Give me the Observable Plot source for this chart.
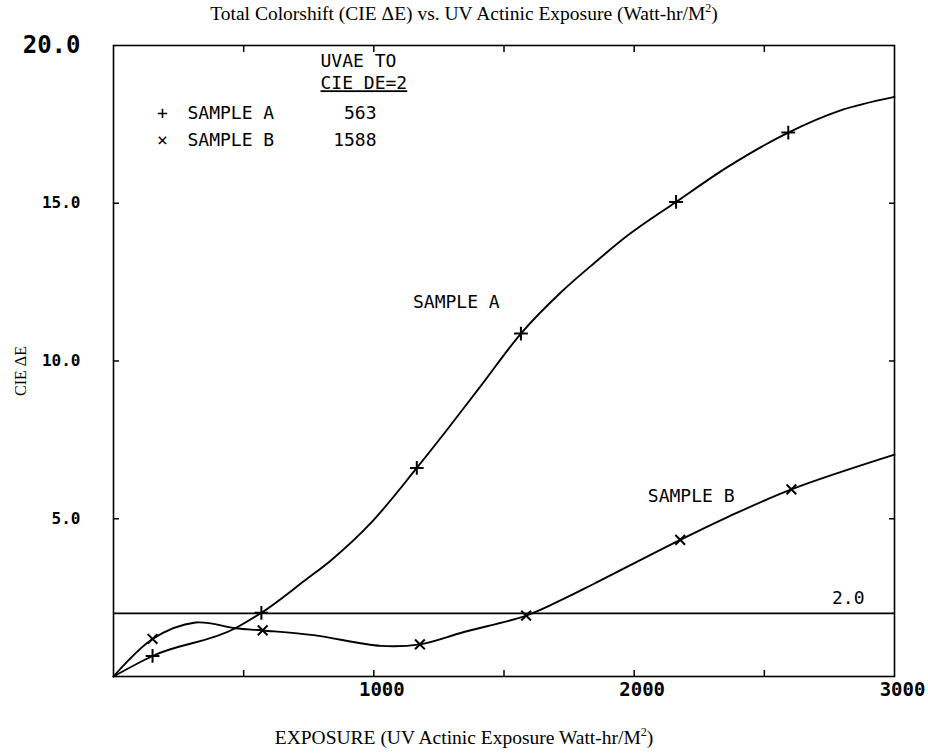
<!DOCTYPE html>
<html>
<head>
<meta charset="utf-8">
<script src="https://cdn.jsdelivr.net/npm/d3@7"></script>
<script src="https://cdn.jsdelivr.net/npm/@observablehq/plot@0.6"></script>
<style>
  body { margin: 0; background: #fff; }
  #wrap { width: 928px; }
  .title, .caption {
    font-family: "Liberation Serif", "Times New Roman", serif;
    font-size: 19.5px; text-align: center; color: #000;
  }
  .title { height: 28px; line-height: 27px; }
  .caption { height: 20px; line-height: 20px; }
  .sup { font-size: 12px; vertical-align: 8px; line-height: 0; }
  #chart svg { display: block; }
</style>
</head>
<body>
<div id="wrap">
  <div class="title">Total Colorshift (CIE ΔE) vs. UV Actinic Exposure (Watt-hr/M<span class="sup">2</span>)</div>
  <div id="chart"></div>
  <div class="caption">EXPOSURE (UV Actinic Exposure Watt-hr/M<span class="sup">2</span>)</div>
</div>
<script>
// Sample A curve (UV actinic exposure, CIE ΔE)
const expA   = [0, 150, 468, 568, 736, 835, 988, 1165, 1285, 1411, 1565, 1719, 1846, 1977, 2161, 2361, 2592, 2785, 3000];
const deltaA = [0, 0.65, 1.53, 2.02, 3.05, 3.68, 4.86, 6.61, 7.86, 9.21, 10.87, 12.18, 13.1, 13.99, 15.04, 16.16, 17.24, 17.92, 18.37];
// Sample B curve
const expB   = [0, 150, 315, 469, 573, 769, 1027, 1177, 1346, 1585, 1719, 1846, 2177, 2361, 2604, 3000];
const deltaB = [0, 1.19, 1.71, 1.53, 1.46, 1.31, 0.97, 1.02, 1.41, 1.93, 2.42, 2.94, 4.33, 5.06, 5.93, 7.03];
// Measured points (markers)
const markExpA   = [150, 568, 1165, 1565, 2161, 2592];
const markDeltaA = [0.65, 2.02, 6.61, 10.87, 15.04, 17.24];
const markExpB   = [150, 573, 1177, 1585, 2177, 2604];
const markDeltaB = [1.19, 1.46, 1.02, 1.93, 4.33, 5.93];
// Threshold line
const threshold = [2.0];
// Axis ticks
const xTicks = [500, 1000, 1500, 2000, 2500];
const xTickLabels = [1000, 2000, 3000];
const yTicks = [5, 10, 15];
const yTickLabels = [5, 10, 15];
const yTopLabel = [20];
// Curve labels (data space)
const curveLabelText = ["SAMPLE A", "SAMPLE B"];
const curveLabelExp = [1317, 2219];
const curveLabelDelta = [11.87, 5.72];
// Legend table
const legendHeader = ["UVAE TO", "CIE DE=2"];
const legendSymbols = ["+", "×"];
const legendNames = ["SAMPLE A", "SAMPLE B"];
const legendValues = ["563", "1588"];

const mono = "DejaVu Sans Mono, Liberation Mono, monospace";
const serif = "Liberation Serif, Times New Roman, serif";
const legendFont = {fontFamily: mono, fontSize: 18, frameAnchor: "top-left", lineAnchor: "middle"};
const headerOffsets = [16, 38];
const rowOffsets = [68, 95];

const tickOnly = {tickSize: -6, tickFormat: () => "", label: null, strokeWidth: 1.5};

const legendMarks = [
  ...legendHeader.map((t, i) => Plot.text([t], {...legendFont, textAnchor: "start", dx: 207, dy: headerOffsets[i], text: d => d})),
  ...legendSymbols.map((t, i) => Plot.text([t], {...legendFont, textAnchor: "middle", dx: 49, dy: rowOffsets[i], text: d => d})),
  ...legendNames.map((t, i) => Plot.text([t], {...legendFont, textAnchor: "start", dx: 74, dy: rowOffsets[i], text: d => d})),
  ...legendValues.map((t, i) => Plot.text([t], {...legendFont, textAnchor: "end", dx: 263, dy: rowOffsets[i], text: d => d}))
];

const chart = Plot.plot({
  width: 928,
  height: 700,
  marginLeft: 113,
  marginRight: 34,
  marginTop: 17,
  marginBottom: 52,
  x: {type: "linear", domain: [0, 3000]},
  y: {type: "linear", domain: [0, 20]},
  marks: [
    Plot.frame({stroke: "black", strokeWidth: 1.6}),
    Plot.axisX({anchor: "bottom", ticks: xTicks, ...tickOnly}),
    Plot.axisX({anchor: "top", ticks: xTicks, ...tickOnly}),
    Plot.axisY({anchor: "left", ticks: yTicks, ...tickOnly}),
    Plot.axisY({anchor: "right", ticks: yTicks, ...tickOnly}),
    Plot.axisX({anchor: "bottom", ticks: xTickLabels, tickSize: 0, tickPadding: 6, dx: 8,
      tickFormat: d => String(d), label: null,
      fontFamily: mono, fontWeight: "bold", fontSize: 19}),
    Plot.axisY({anchor: "left", ticks: yTickLabels, tickSize: 0, tickPadding: 33,
      tickFormat: d => d.toFixed(1), label: null,
      fontFamily: mono, fontWeight: "bold", fontSize: 16}),
    Plot.axisY({anchor: "left", ticks: yTopLabel, tickSize: 0, tickPadding: 33,
      tickFormat: d => d.toFixed(1), label: null,
      fontFamily: mono, fontWeight: "bold", fontSize: 24}),
    Plot.ruleY(threshold, {stroke: "black", strokeWidth: 1.6}),
    Plot.text(threshold, {y: d => d, frameAnchor: "right", textAnchor: "end", dx: -30, dy: -15,
      text: d => d.toFixed(1), fontFamily: mono, fontSize: 18}),
    Plot.line(expA, {x: expA, y: deltaA, curve: "monotone-x", stroke: "black", strokeWidth: 1.9}),
    Plot.line(expB, {x: expB, y: deltaB, curve: "catmull-rom", stroke: "black", strokeWidth: 1.9}),
    Plot.dot(markExpA, {x: markExpA, y: markDeltaA, symbol: "plus", r: 4.5, stroke: "black", strokeWidth: 2}),
    Plot.dot(markExpB, {x: markExpB, y: markDeltaB, symbol: "times", r: 4.5, stroke: "black", strokeWidth: 2}),
    Plot.text(curveLabelText, {x: curveLabelExp, y: curveLabelDelta, text: d => d,
      fontFamily: mono, fontSize: 18}),
    ...legendMarks,
    Plot.text(["CIE ΔE"], {frameAnchor: "left", textAnchor: "middle", lineAnchor: "middle",
      dx: -93, dy: 10, rotate: -90, text: d => d, fontFamily: serif, fontSize: 16})
  ]
});

d3.select(chart).selectAll("text")
  .filter(function() { return this.textContent === legendHeader[1]; })
  .style("text-decoration", "underline");

document.getElementById("chart").append(chart);
</script>
</body>
</html>
